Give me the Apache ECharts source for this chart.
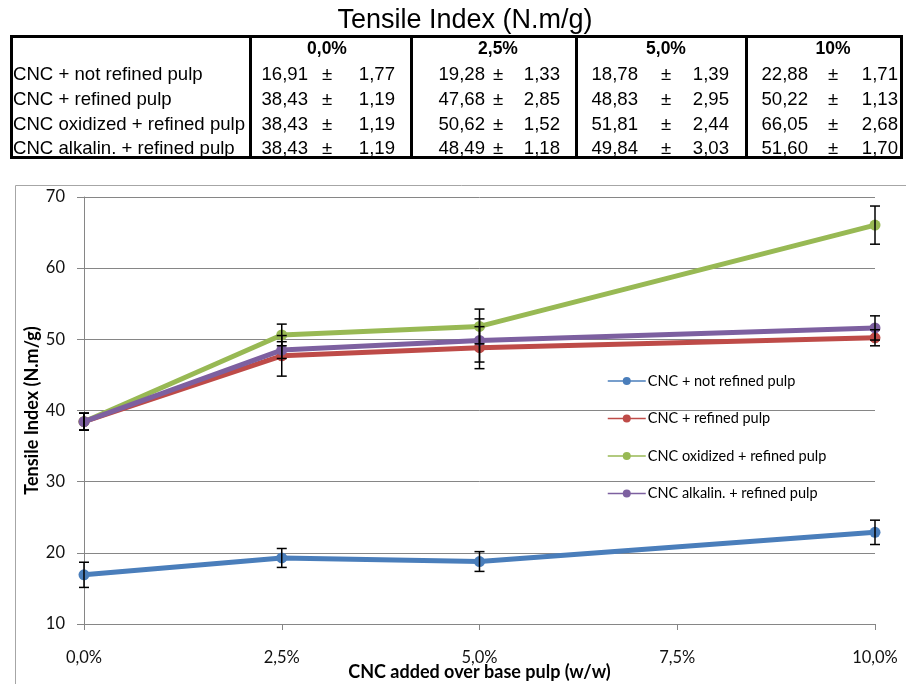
<!DOCTYPE html>
<html>
<head>
<meta charset="utf-8">
<script src="https://cdn.jsdelivr.net/npm/echarts@6/dist/echarts.min.js"></script>
<style>
html,body{margin:0;padding:0;background:#fff;}
#wrap{position:relative;width:906px;height:684px;overflow:hidden;}
#chart{position:absolute;left:0;top:0;width:906px;height:684px;}
#tbl{position:absolute;left:0;top:0;width:906px;height:170px;font-family:"Liberation Sans",Arial,sans-serif;color:#000;}
.t{position:absolute;white-space:nowrap;line-height:24px;height:24px;font-size:18.6px;}
.b{position:absolute;background:#000;}
</style>
</head>
<body>
<div id="wrap">
<div id="chart"></div>
<div id="tbl"></div>
</div>
<script>
// ---- data ----
const seriesNames = ['CNC + not refined pulp', 'CNC + refined pulp', 'CNC oxidized + refined pulp', 'CNC alkalin. + refined pulp'];
const xValues = [0, 2.5, 5, 10];
const headerLabels = ['0,0%', '2,5%', '5,0%', '10%'];
const notRefined = [16.91, 19.28, 18.78, 22.88];
const notRefinedErr = [1.77, 1.33, 1.39, 1.71];
const refined = [38.43, 47.68, 48.83, 50.22];
const refinedErr = [1.19, 2.85, 2.95, 1.13];
const oxidized = [38.43, 50.62, 51.81, 66.05];
const oxidizedErr = [1.19, 1.52, 2.44, 2.68];
const alkalin = [38.43, 48.49, 49.84, 51.60];
const alkalinErr = [1.19, 1.18, 3.03, 1.70];
const xTickLabels = ['0,0%', '2,5%', '5,0%', '7,5%', '10,0%'];

const allVals = [notRefined, refined, oxidized, alkalin];
const allErrs = [notRefinedErr, refinedErr, oxidizedErr, alkalinErr];
const colors = ['#4a7ebb', '#be4b48', '#98b954', '#7d60a0'];

// ---- table (HTML) ----
const tbl = document.getElementById('tbl');
function add(cls, css, txt) {
  const d = document.createElement('div');
  d.className = cls;
  Object.assign(d.style, css);
  if (txt !== undefined) d.textContent = txt;
  tbl.appendChild(d);
  return d;
}
const fmt = v => v.toFixed(2).replace('.', ',');
add('t', {left: '0px', width: '930px', top: '4px', textAlign: 'center', fontSize: '27px', lineHeight: '30px', height: '30px'}, 'Tensile Index (N.m/g)');
// borders
const L = 10, R = 903, T = 35, B = 159, bw = 3;
add('b', {left: L + 'px', top: T + 'px', width: (R - L) + 'px', height: bw + 'px'});
add('b', {left: L + 'px', top: (B - bw) + 'px', width: (R - L) + 'px', height: bw + 'px'});
add('b', {left: L + 'px', top: T + 'px', width: bw + 'px', height: (B - T) + 'px'});
add('b', {left: (R - bw) + 'px', top: T + 'px', width: bw + 'px', height: (B - T) + 'px'});
const seps = [249, 410, 575, 745];
seps.forEach(s => add('b', {left: s + 'px', top: T + 'px', width: bw + 'px', height: (B - T) + 'px'}));
// column positions: value right edge, ± center, err right edge
const colPos = [[308, 327, 395], [485, 498, 560], [638, 666, 729], [808, 833, 898]];
const rowTops = [62, 87, 112, 136];
headerLabels.forEach((h, i) => {
  add('t', {left: (colPos[i][1] - 60) + 'px', width: '120px', top: '36px', textAlign: 'center', fontWeight: 'bold', fontSize: '17.5px'}, h);
});
seriesNames.forEach((n, r) => {
  add('t', {left: '13px', top: rowTops[r] + 'px'}, n);
  for (let c = 0; c < 4; c++) {
    add('t', {left: (colPos[c][0] - 80) + 'px', width: '80px', textAlign: 'right', top: rowTops[r] + 'px'}, fmt(allVals[r][c]));
    add('t', {left: (colPos[c][1] - 20) + 'px', width: '40px', textAlign: 'center', top: rowTops[r] + 'px'}, '±');
    add('t', {left: (colPos[c][2] - 80) + 'px', width: '80px', textAlign: 'right', top: rowTops[r] + 'px'}, fmt(allErrs[r][c]));
  }
});

// ---- chart ----
const chart = echarts.init(document.getElementById('chart'), null, {renderer: 'canvas', width: 906, height: 684});
const FONT = 'Lato, "Open Sans", sans-serif';
const lineSeries = seriesNames.map((name, i) => ({
  name,
  type: 'line',
  data: xValues.map((x, j) => [x, allVals[i][j]]),
  color: colors[i],
  lineStyle: {width: 5, color: colors[i]},
  itemStyle: {color: colors[i]},
  symbol: 'circle',
  symbolSize: 11,
  showSymbol: true,
  z: 2 + i,
  animation: false
}));
const errSeries = seriesNames.map((name, i) => ({
  type: 'custom',
  data: xValues.map((x, j) => [x, allVals[i][j] - allErrs[i][j], allVals[i][j] + allErrs[i][j]]),
  encode: {x: 0, y: [1, 2]},
  silent: true,
  z: 10,
  animation: false,
  renderItem: (params, api) => {
    const x = api.value(0);
    const lo = api.coord([x, api.value(1)]);
    const hi = api.coord([x, api.value(2)]);
    const hw = 5;
    const st = {stroke: '#000', lineWidth: 1.5};
    return {type: 'group', children: [
      {type: 'line', shape: {x1: lo[0], y1: lo[1], x2: hi[0], y2: hi[1]}, style: st},
      {type: 'line', shape: {x1: lo[0] - hw, y1: lo[1], x2: lo[0] + hw, y2: lo[1]}, style: st},
      {type: 'line', shape: {x1: hi[0] - hw, y1: hi[1], x2: hi[0] + hw, y2: hi[1]}, style: st}
    ]};
  }
}));

chart.setOption({
  animation: false,
  backgroundColor: 'transparent',
  graphic: [{
    type: 'rect', shape: {x: 15.5, y: 185.5, width: 920, height: 540},
    style: {fill: 'none', stroke: '#a6a6a6', lineWidth: 1}, z: 0, silent: true
  }],
  grid: {left: 84, top: 197, width: 791, height: 427, containLabel: false, outerBoundsMode: 'none'},
  legend: {
    orient: 'vertical',
    left: 607, top: 373,
    data: seriesNames,
    itemWidth: 38, itemHeight: 10, itemGap: 21.5,
    textStyle: {fontFamily: FONT, fontSize: 14.5, color: '#000', lineHeight: 16, padding: [0, 0, 0, -3]},
    lineStyle: {width: 1.5},
    padding: 0
  },
  xAxis: {
    type: 'value', min: 0, max: 10, interval: 2.5,
    name: 'CNC added over base pulp (w/w)', nameLocation: 'middle', nameGap: 39, nameMoveOverlap: false,
    nameTextStyle: {fontFamily: FONT, fontSize: 18, fontWeight: 'bold', color: '#000'},
    axisLine: {show: true, lineStyle: {color: '#868686', width: 1}},
    axisTick: {show: true, length: 6, lineStyle: {color: '#868686'}},
    axisLabel: {
      margin: 25, fontFamily: FONT, fontSize: 16.5, color: '#111',
      formatter: v => xTickLabels[Math.round(v / 2.5)]
    },
    splitLine: {show: false}
  },
  yAxis: {
    type: 'value', min: 10, max: 70, interval: 10,
    name: 'Tensile Index (N.m/g)', nameLocation: 'middle', nameGap: 43, nameRotate: 90, nameMoveOverlap: false,
    nameTextStyle: {fontFamily: FONT, fontSize: 18, fontWeight: 'bold', color: '#000'},
    axisLine: {show: true, lineStyle: {color: '#868686', width: 1}},
    axisTick: {show: true, length: 7, lineStyle: {color: '#868686'}},
    axisLabel: {margin: 19, fontFamily: FONT, fontSize: 16.5, color: '#111'},
    splitLine: {show: true, lineStyle: {color: '#868686', width: 1}}
  },
  series: [...lineSeries, ...errSeries]
});
</script>
</body>
</html>
